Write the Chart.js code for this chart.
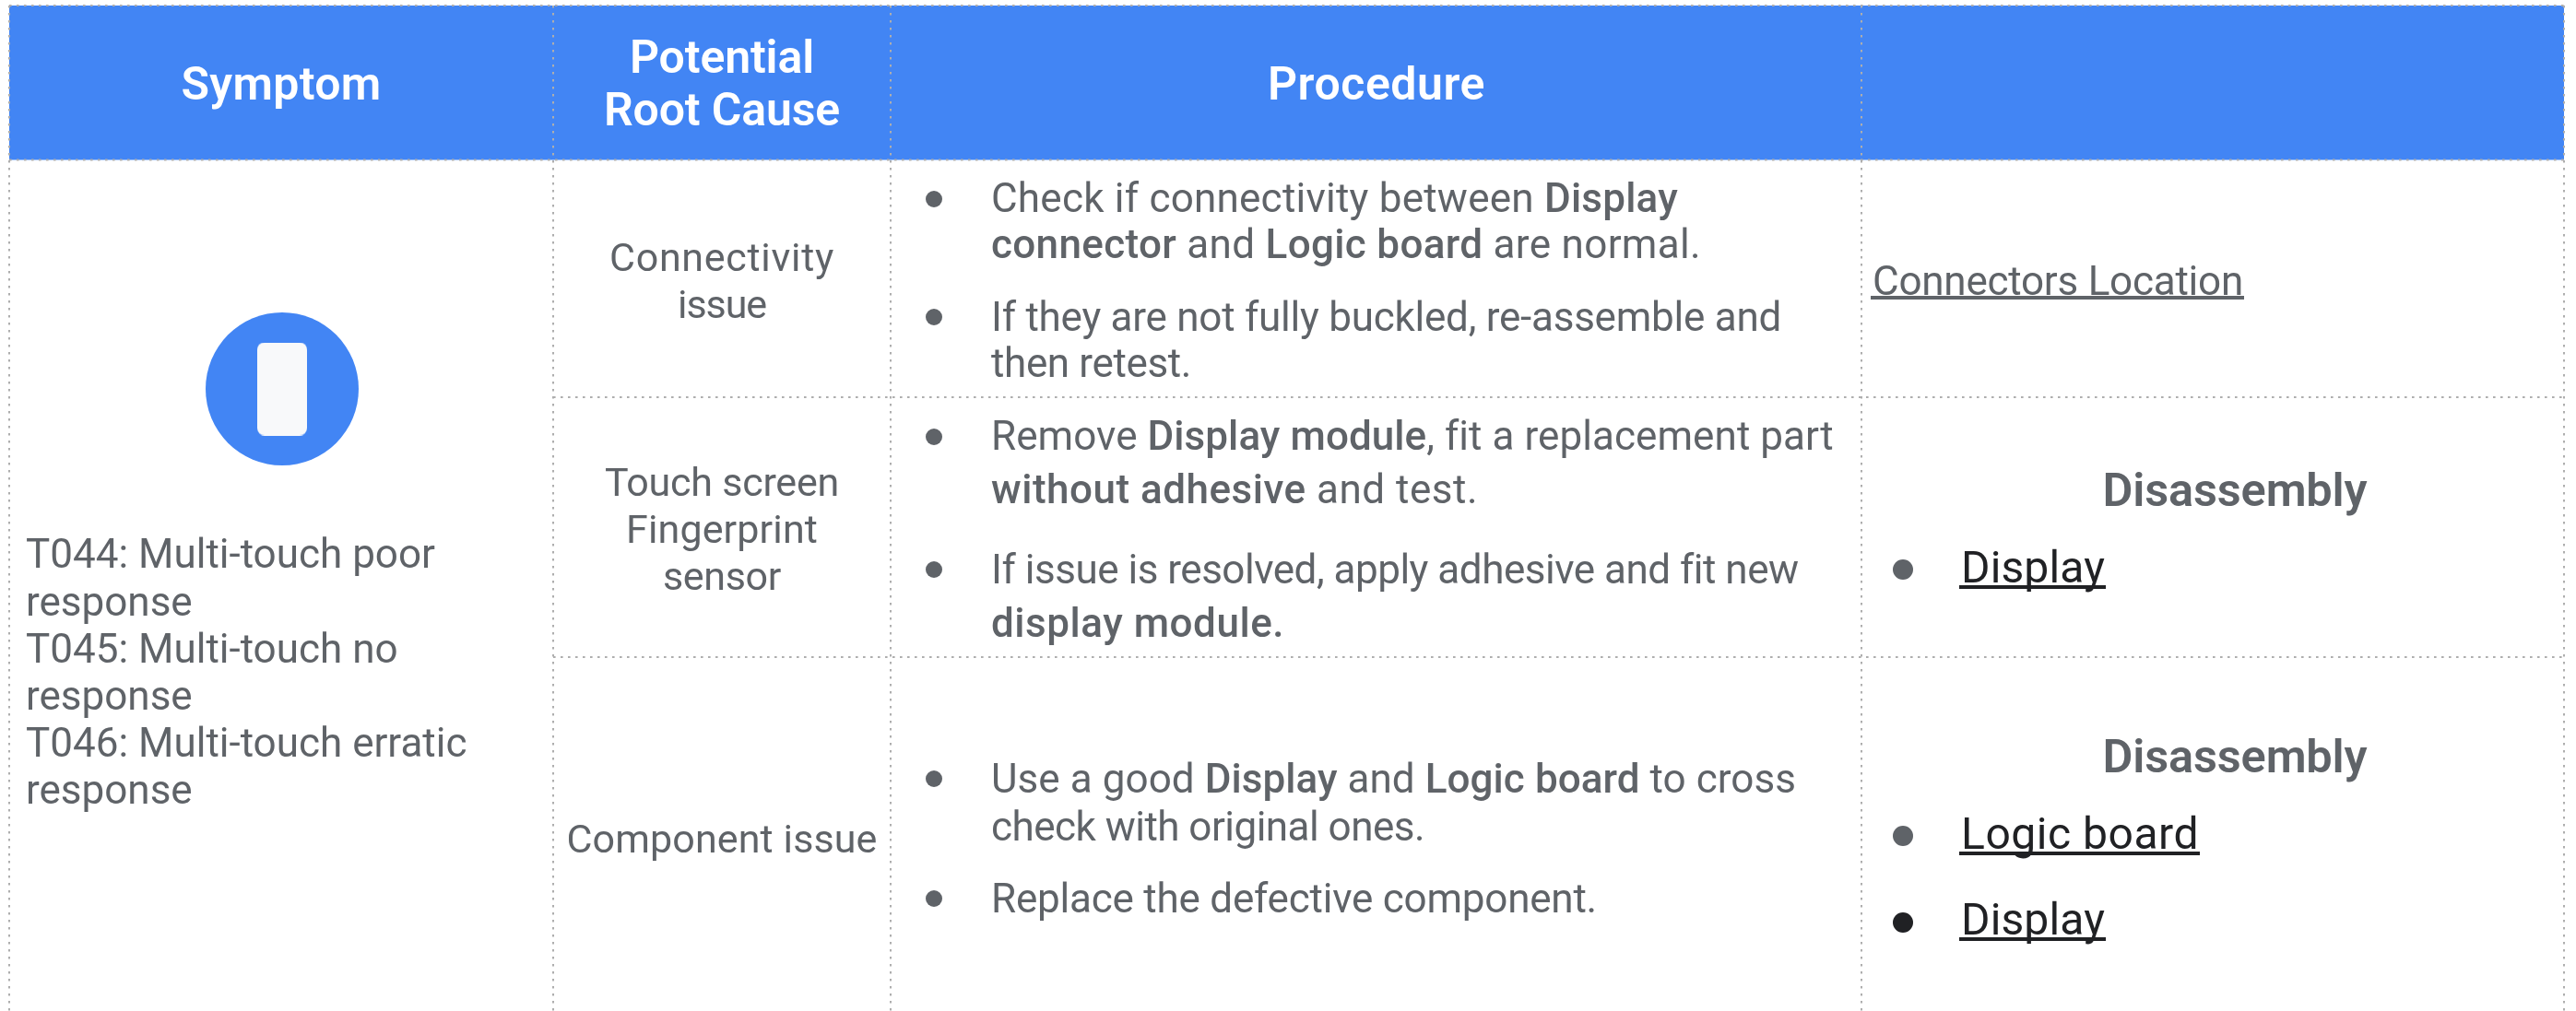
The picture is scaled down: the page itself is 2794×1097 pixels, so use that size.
<!DOCTYPE html>
<html>
<head>
<meta charset="utf-8">
<title>Multi-touch troubleshooting</title>
<script src="https://cdn.jsdelivr.net/npm/chart.js@4/dist/chart.umd.min.js"></script>
<style>
  html, body { margin: 0; padding: 0; background: #fff; }
  canvas { display: block; }
</style>
</head>
<body>
<canvas id="tableChart" width="2794" height="1097"></canvas>
<script>
// table content
const headers = [['Symptom'], ['Potential', 'Root Cause'], ['Procedure']];
const symptomLines = [
    'T044: Multi-touch poor', 'response',
    'T045: Multi-touch no', 'response',
    'T046: Multi-touch erratic', 'response'
];
const causeLines = [['Connectivity', 'issue'], ['Touch screen', 'Fingerprint', 'sensor'], ['Component issue']];
// each line is a list of [text, isBold] runs
const procedureLines = [
    [['Check if connectivity between ', 0], ['Display', 1]],
    [['connector', 1], [' and ', 0], ['Logic board', 1], [' are normal.', 0]],
    [['If they are not fully buckled, re-assemble and', 0]],
    [['then retest.', 0]],
    [['Remove ', 0], ['Display module', 1], [', fit a replacement part', 0]],
    [['without adhesive', 1], [' and test.', 0]],
    [['If issue is resolved, apply adhesive and fit new', 0]],
    [['display module.', 1]],
    [['Use a good ', 0], ['Display', 1], [' and ', 0], ['Logic board', 1], [' to cross', 0]],
    [['check with original ones.', 0]],
    [['Replace the defective component.', 0]]
];
const sideTitles = ['Disassembly', 'Disassembly'];
const sideLinks = ['Display', 'Logic board', 'Display'];
const locationLink = 'Connectors Location';

// table geometry, in axis units
const colEdges = [10, 600, 965.5, 2018.5, 2781];
const rowEdges = [6, 173.5, 431, 713];
const headerCenters = [305, 783, 1493];
const headerBaselines = [[108], [79, 136], [108]];
const headerWidths = [[217], [200, 256], [236]];
const symptomBaselines = [616, 668, 719, 770, 821, 872];
const causeBaselines = [[294, 345], [538, 589, 640], [925]];
const causeWidths = [[244, 96], [254, 208, 128], [337]];
const procedureBaselines = [230, 280, 359, 409, 488, 546, 633, 691, 860, 912, 990];
const procedureWidths = [745, 770, 857, 217, 912, 528, 874, 318, 873, 470, 657];
const procedureBullets = [216, 344, 474, 618, 845, 975];
const sideTitleBaselines = [549, 838];
const sideLinkBaselines = [632, 921, 1014];
const sideLinkWidths = [156, 258, 156];
const sideBullets = [618, 907, 1001];
const sideBulletColors = ['#5f6368', '#5f6368', '#202124'];

const GRAY = '#5f6368';
const DARK = '#202124';
const BLUE = '#4285f4';
const DOTS = '#aeaeae';
const FONT = 'Roboto';

function phoneGlyph() {
    const c = document.createElement('canvas');
    c.width = 54;
    c.height = 101;
    const g = c.getContext('2d');
    g.fillStyle = '#f8f9fa';
    g.beginPath();
    g.roundRect(0, 0, 54, 101, 8);
    g.fill();
    return c;
}

function rule(y, fromCol) {
    return {
        type: 'line',
        data: [{ x: colEdges[fromCol], y: y }, { x: colEdges[4], y: y }],
        borderColor: DOTS,
        borderWidth: 2,
        borderDash: [2.6, 5.4],
        pointRadius: 0,
        clip: false
    };
}

// draws one line of runs; when fit is given the letter spacing is nudged so the line has that width
function drawLine(ctx, x, y, runs, style, fit) {
    const fontFor = (bold) => `${bold ? style.boldWeight || 500 : 400} ${style.size}px ${FONT}`;
    let width = 0;
    let chars = 0;
    ctx.letterSpacing = '0px';
    runs.forEach(r => {
        ctx.font = fontFor(r[1]);
        width += ctx.measureText(r[0]).width;
        chars += r[0].length;
    });
    const spacing = fit ? (fit - width) / chars : 0;
    const total = fit || width;
    let cx = style.align === 'center' ? x - total / 2 : x;
    ctx.fillStyle = style.color;
    ctx.textAlign = 'left';
    ctx.textBaseline = 'alphabetic';
    ctx.letterSpacing = spacing + 'px';
    runs.forEach(r => {
        ctx.font = fontFor(r[1]);
        ctx.fillText(r[0], cx, y);
        cx += ctx.measureText(r[0]).width;
    });
    ctx.letterSpacing = '0px';
    return total;
}

const tableText = {
    id: 'tableText',
    afterDatasetsDraw(chart) {
        const ctx = chart.ctx;
        const sx = chart.scales.x;
        const sy = chart.scales.y;
        const put = (x, y, runs, style, fit) =>
            drawLine(ctx, sx.getPixelForValue(x), sy.getPixelForValue(y), runs, style, fit);
        const underline = (x, y, w, color) => {
            ctx.fillStyle = color;
            ctx.fillRect(sx.getPixelForValue(x) - 2, sy.getPixelForValue(y) + 3, w + 3, 4);
        };
        const title = { size: 50, color: '#ffffff', align: 'center', boldWeight: 600 };
        const sideTitle = { size: 50.5, color: GRAY, align: 'center', boldWeight: 600 };
        const cause = { size: 43, color: GRAY, align: 'center' };
        const body = { size: 44, color: GRAY, align: 'left' };
        const link = { size: 48, color: DARK, align: 'left' };
        ctx.save();
        headers.forEach((lines, i) => lines.forEach((t, j) =>
            put(headerCenters[i], headerBaselines[i][j], [[t, 1]], title, headerWidths[i][j])));
        symptomLines.forEach((t, i) => put(28, symptomBaselines[i], [[t, 0]], body));
        causeLines.forEach((lines, i) => lines.forEach((t, j) =>
            put(headerCenters[1], causeBaselines[i][j], [[t, 0]], cause, causeWidths[i][j])));
        procedureLines.forEach((runs, i) => put(1075, procedureBaselines[i], runs, body, procedureWidths[i]));
        sideTitles.forEach((t, i) => put(2424, sideTitleBaselines[i], [[t, 1]], sideTitle, 287));
        sideLinks.forEach((t, i) => {
            const w = put(2127, sideLinkBaselines[i], [[t, 0]], link, sideLinkWidths[i]);
            underline(2127, sideLinkBaselines[i], w, DARK);
        });
        const w = put(2031, 320, [[locationLink, 0]], body, 402);
        underline(2031, 318, w, GRAY);
        ctx.restore();
    }
};

new Chart(document.getElementById('tableChart'), {
    type: 'scatter',
    data: {
        datasets: [
            rule(rowEdges[0], 0),
            rule(rowEdges[1], 0),
            rule(rowEdges[2], 1),
            rule(rowEdges[3], 1),
            {
                data: [{ x: 306, y: 422 }],
                pointStyle: phoneGlyph(),
                pointRadius: 30
            },
            {
                data: [{ x: 306, y: 422 }],
                backgroundColor: BLUE,
                borderWidth: 0,
                pointRadius: 83
            },
            {
                data: procedureBullets.map(y => ({ x: 1013, y: y })),
                backgroundColor: GRAY,
                borderWidth: 0,
                pointRadius: 9
            },
            {
                data: sideBullets.map(y => ({ x: 2064, y: y })),
                backgroundColor: sideBulletColors,
                borderWidth: 0,
                pointRadius: 11
            },
            {
                // header band
                type: 'line',
                data: [{ x: colEdges[0], y: rowEdges[0] }, { x: colEdges[4], y: rowEdges[0] }],
                borderWidth: 0,
                pointRadius: 0,
                backgroundColor: BLUE,
                fill: { value: rowEdges[1] }
            }
        ]
    },
    options: {
        responsive: false,
        animation: false,
        layout: { autoPadding: false, padding: { top: rowEdges[0], left: 0, right: 0, bottom: 0 } },
        events: [],
        plugins: { legend: { display: false }, tooltip: { enabled: false } },
        scales: {
            x: {
                type: 'linear',
                min: 0,
                max: 2794,
                afterBuildTicks: (scale) => { scale.ticks = colEdges.map(v => ({ value: v })); },
                ticks: { display: false },
                border: { display: false, dash: [2.6, 5.4] },
                grid: { color: DOTS, lineWidth: 2, drawTicks: false, z: 1 }
            },
            y: {
                type: 'linear',
                reverse: true,
                min: rowEdges[0],
                max: 1097,
                ticks: { display: false },
                border: { display: false },
                grid: { display: false, drawTicks: false }
            }
        }
    },
    plugins: [tableText]
});
</script>
</body>
</html>
